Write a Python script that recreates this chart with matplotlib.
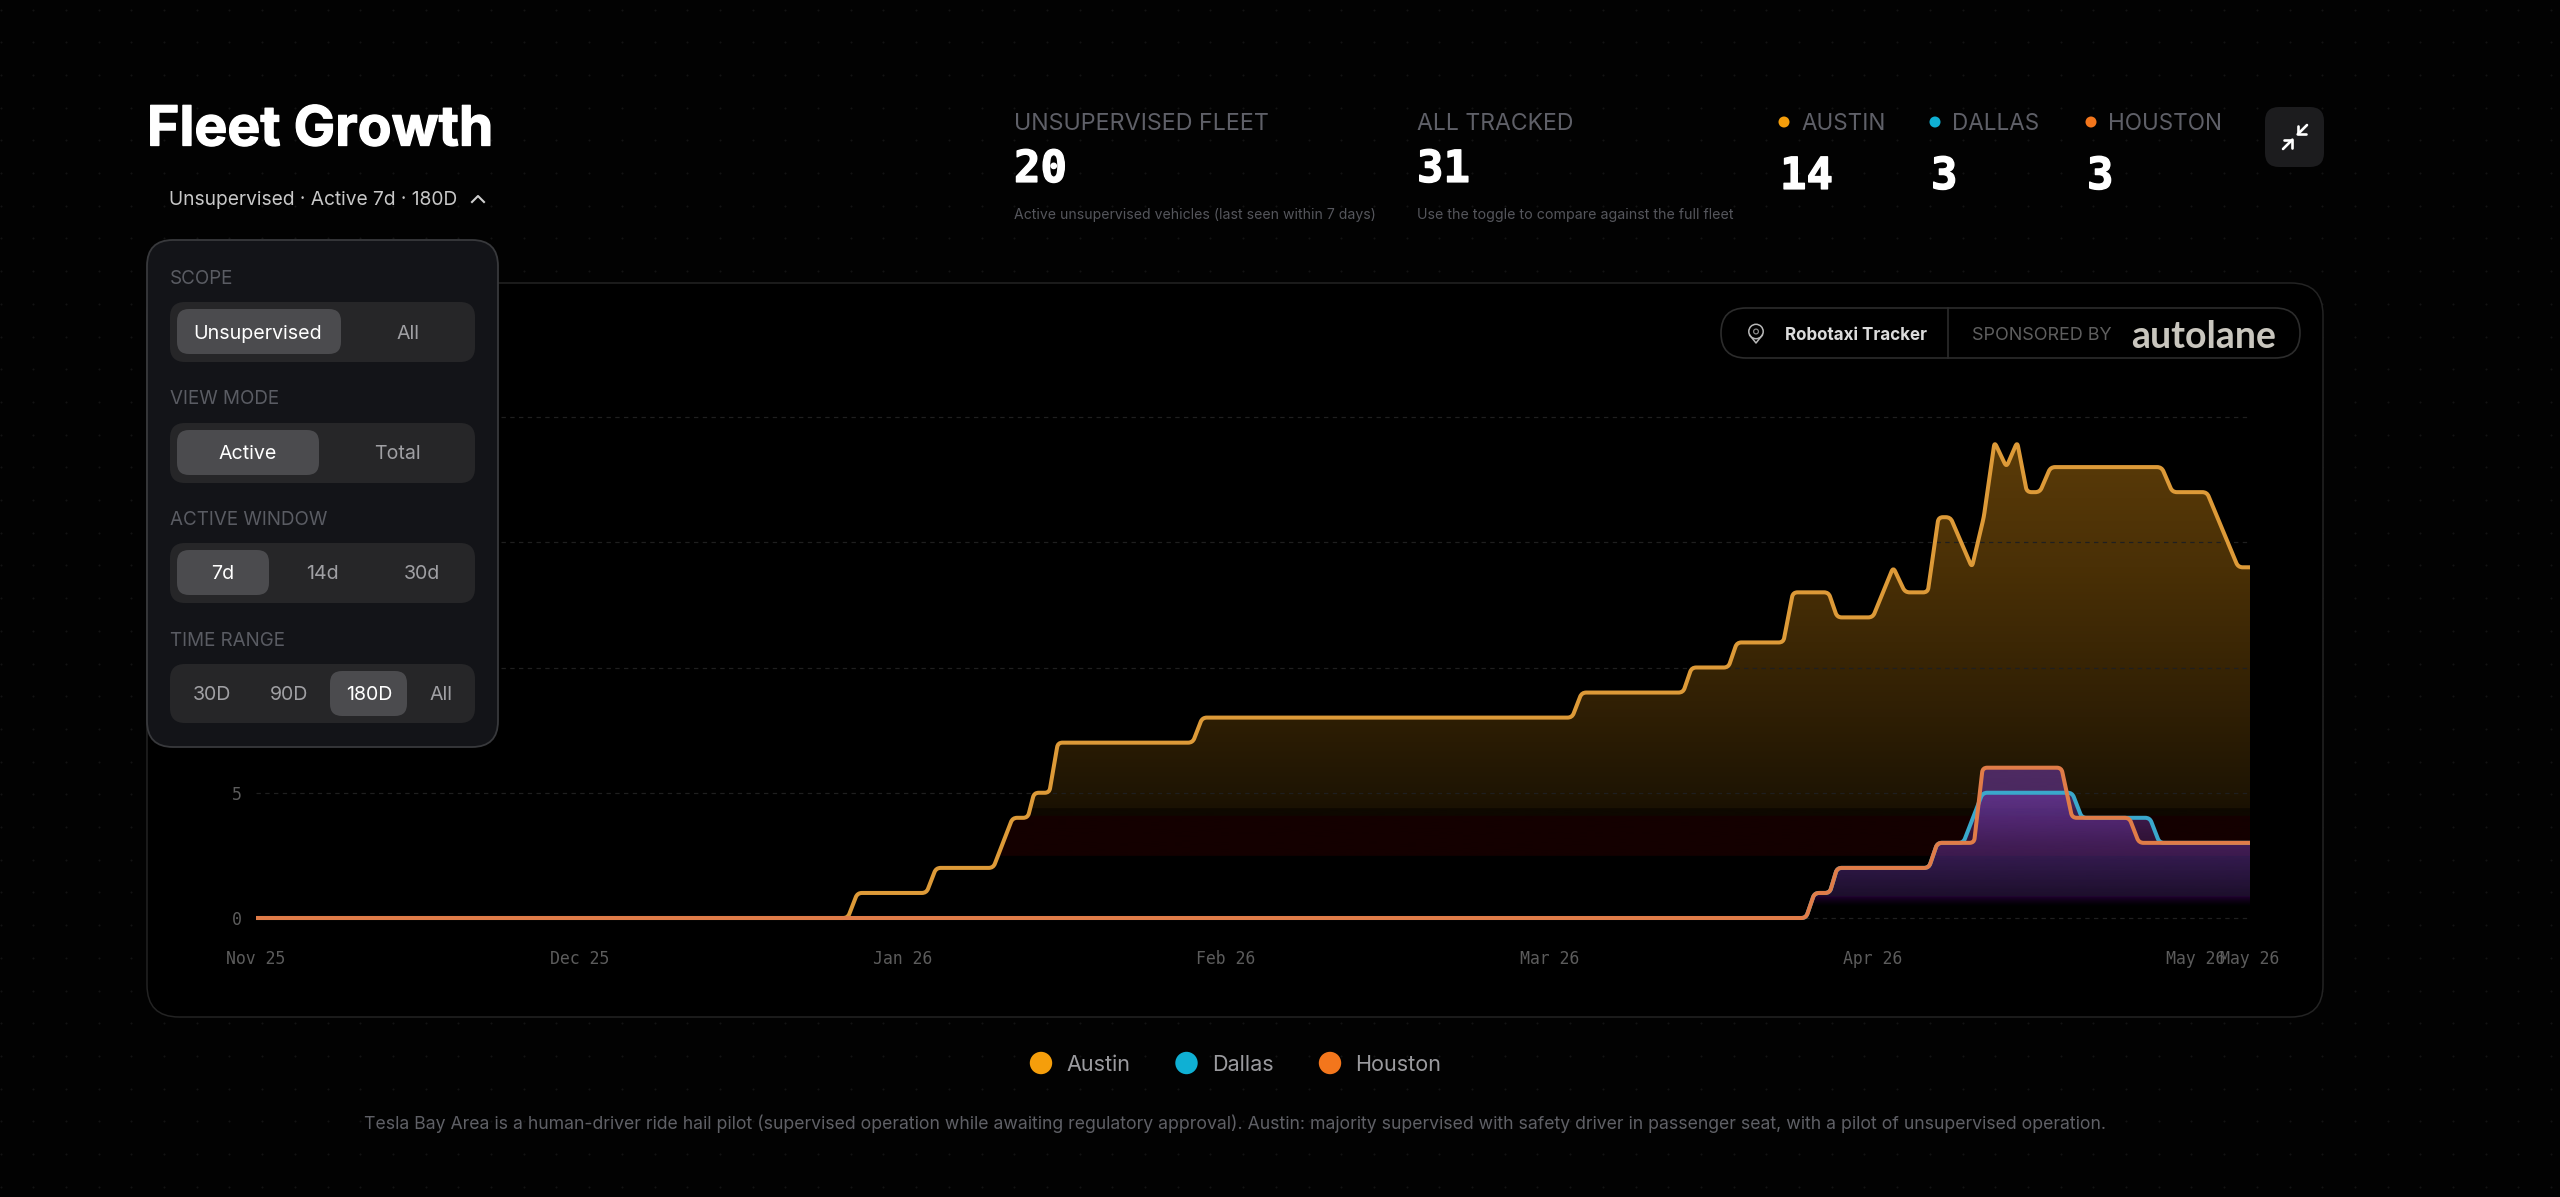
import numpy as np
import matplotlib
matplotlib.use("Agg")
import matplotlib.pyplot as plt
import matplotlib.patheffects as pe
from matplotlib.colors import LinearSegmentedColormap, to_rgba
from matplotlib.patches import FancyBboxPatch, Circle, PathPatch
from matplotlib.path import Path

# day offsets from the first sample, and vehicles active on that day
austin_days = [0, 54.9, 55.8, 62.2, 63.1, 68.4, 70.2, 71.6, 72.2, 73.6, 74.4, 86.9, 87.8,
               122.1, 123.0, 132.4, 133.2, 136.6, 137.4, 141.7, 142.6, 145.9, 146.7, 150.0,
               151.9, 153.0, 155.1, 156.1, 157.2, 159.2, 160.3, 161.3, 162.4, 163.4, 164.3,
               165.5, 166.5, 176.8, 177.8, 181.0, 183.9, 185]
austin_vals = [0, 0, 1, 1, 2, 2, 4, 4, 5, 5, 7, 7, 8,
               8, 9, 9, 10, 10, 11, 11, 13, 13, 12, 12,
               14, 13, 13, 16, 16, 14, 16, 19, 18, 19, 17,
               17, 18, 18, 17, 17, 14, 14]
dallas_days = [0, 143.8, 144.6, 146.0, 146.7, 155.2, 156.0, 158.4, 160.2, 168.5, 169.4, 175.7, 176.6, 185]
dallas_vals = [0, 0, 1, 1, 2, 2, 3, 3, 5, 5, 4, 4, 3, 3]
houston_days = [0, 143.8, 144.6, 146.0, 146.7, 155.2, 156.0, 159.4, 160.2, 167.5, 168.5, 173.8, 174.7, 185]
houston_vals = [0, 0, 1, 1, 2, 2, 3, 3, 6, 6, 4, 4, 3, 3]

x_ticks = [0, 30, 60, 90, 120, 150, 180, 185]
x_labels = ["Nov 25", "Dec 25", "Jan 26", "Feb 26", "Mar 26", "Apr 26", "May 26", "May 26"]
y_ticks = [0, 5, 10, 15, 20]

city_names = ["AUSTIN", "DALLAS", "HOUSTON"]
city_counts = [14, 3, 3]
legend_names = ["Austin", "Dallas", "Houston"]

AMBER = "#f59e0b"
CYAN = "#0fb0d4"
ORANGE = "#f3761c"
W, H = 2560, 1197
SANS = "Inter"
MONO = "DejaVu Sans Mono"
PX_DAY = (2250 - 256) / 185
PX_UNIT = (918 - 417) / 20


def px(size):
    return size * 0.72


def rbox(ax, x0, y0, x1, y1, r, fc, ec="none", lw=1.0, z=1):
    p = FancyBboxPatch((x0 + r, y0 + r), x1 - x0 - 2 * r, y1 - y0 - 2 * r,
                       boxstyle=f"round,pad={r},rounding_size={r}",
                       fc=fc, ec=ec, lw=lw, zorder=z)
    ax.add_patch(p)
    return p


def rounded_path(xs, ys, r=4.5, close=False):
    # series outline with its corners eased, r is measured in pixels
    pts = np.column_stack([np.array(xs) * PX_DAY, np.array(ys) * PX_UNIT])
    verts = [pts[0]]
    codes = [Path.MOVETO]
    for i in range(1, len(pts) - 1):
        a, b, c = pts[i - 1], pts[i], pts[i + 1]
        la, lc = np.linalg.norm(b - a), np.linalg.norm(c - b)
        ra, rc = min(r, la / 2), min(r, lc / 2)
        verts += [b + (a - b) / la * ra, b, b + (c - b) / lc * rc]
        codes += [Path.LINETO, Path.CURVE3, Path.CURVE3]
    verts.append(pts[-1])
    codes.append(Path.LINETO)
    if close:
        verts += [(pts[-1][0], 0), (pts[0][0], 0), (pts[0][0], 0)]
        codes += [Path.LINETO, Path.LINETO, Path.CLOSEPOLY]
    verts = np.array(verts) / [PX_DAY, PX_UNIT]
    return Path(verts, codes)


def gradient_fill(ax, xs, ys, stops, z):
    # vertical gradient clipped to the area under a series
    top = stops[-1][0]
    cmap = LinearSegmentedColormap.from_list(
        "g", [(v / top, to_rgba(c, a)) for v, c, a in stops], N=512)
    grad = np.linspace(0, 1, 512).reshape(-1, 1)
    im = ax.imshow(grad, extent=[0, 185, 0, top], origin="lower", aspect="auto",
                   cmap=cmap, vmin=0, vmax=1, zorder=z, interpolation="bilinear")
    im.set_clip_path(rounded_path(xs, ys, close=True), transform=ax.transData)


def draw_series(ax, xs, ys, color, z):
    ax.add_patch(PathPatch(rounded_path(xs, ys), fc="none", ec=color, lw=2.9,
                           joinstyle="round", capstyle="butt", clip_on=False, zorder=z))


fig = plt.figure(figsize=(W / 100, H / 100), dpi=100, facecolor="#020202")

# page background and chart card
bg = fig.add_axes([0, 0, 1, 1], zorder=0)
bg.set_xlim(0, W)
bg.set_ylim(H, 0)
bg.axis("off")
gx, gy = np.meshgrid(np.arange(0.5, W, 32.7), np.arange(9.5, H, 32.7))
bg.scatter(gx.ravel(), gy.ravel(), s=2.2, c="#131313", linewidths=0, zorder=0)
rbox(bg, 147, 283, 2323, 1017, 32, "#000000", "#232323", 1.1, z=1)

# chart area
ax = fig.add_axes([256 / W, 1 - 918 / H, (2250 - 256) / W, (918 - 417) / H], zorder=1)
ax.patch.set_alpha(0)
for s in ax.spines.values():
    s.set_visible(False)

austin_stops = [(0, "#000000", 0), (2.46, "#000000", 0), (2.47, "#140000", 1), (4.06, "#140000", 1),
                (4.07, "#0e0800", 1), (4.35, "#0e0800", 1), (4.36, "#1a1102", 1), (5, "#1f1503", 1),
                (8, "#2e1e04", 1), (14, "#4a3006", 1), (19.5, "#5c3c08", 1)]
gradient_fill(ax, austin_days, austin_vals, austin_stops, 2)

purple = "#6a37a0"
purple_stops = [(0, "#000000", 0), (0.44, "#140020", 0), (0.86, "#3c0058", 0.32), (0.87, purple, 0.15),
                (3, purple, 0.33), (5, purple, 0.6), (6.5, purple, 0.62)]
gradient_fill(ax, dallas_days, dallas_vals, purple_stops, 3)
gradient_fill(ax, houston_days, houston_vals, purple_stops, 3.1)

ax.set_xlim(0, 185)
ax.set_ylim(0, 20)
ax.set_xticks(x_ticks)
ax.set_xticklabels(x_labels, family=MONO, fontsize=px(16.5), color="#5c5c5c")
ax.set_yticks(y_ticks)
ax.set_yticklabels([str(v) for v in y_ticks], family=MONO, fontsize=px(16.5), color="#5c5c5c")
ax.tick_params(axis="x", length=0, pad=23)
ax.tick_params(axis="y", length=0, pad=10)
ax.grid(False)
for v in y_ticks:
    ax.axhline(v, color="#1f1f1f", lw=0.9, dashes=(3.5, 3.5), zorder=4, clip_on=False)

draw_series(ax, austin_days, austin_vals, "#dd9a38", 5)
draw_series(ax, dallas_days, dallas_vals, "#3aa8cc", 6)
draw_series(ax, houston_days, houston_vals, "#e07c48", 7)

# everything around the plot, in pixel coordinates
ov = fig.add_axes([0, 0, 1, 1], zorder=2)
ov.set_xlim(0, W)
ov.set_ylim(H, 0)
ov.axis("off")
ov.patch.set_alpha(0)


def label(x, y, s, size, color, ha="left", weight="normal", family=SANS, stroke=0):
    t = ov.text(x, y + 0.1 * size, s, fontsize=px(size), color=color, ha=ha, va="center",
                fontweight=weight, family=family, zorder=10)
    if stroke:
        t.set_path_effects([pe.withStroke(linewidth=stroke, foreground=color)])
    return t


label(147, 125, "Fleet Growth", 55.3, "#ffffff", weight="bold", stroke=0.9)
label(169, 198, "Unsupervised · Active 7d · 180D", 19.2, "#c8c8c8")
ov.plot([472, 478, 484], [202, 196, 202], color="#d0d0d0", lw=1.5, zorder=10)

# settings panel
rbox(ov, 147, 240, 498, 747, 26, "#131418", "#38393c", 1.3, z=5)
groups = [
    ("SCOPE", 277, 302, 362, (177, 341, 309, 354), 332,
     [("Unsupervised", 258, True), ("All", 408, False)]),
    ("VIEW MODE", 397, 423, 483, (177, 319, 430, 475), 452,
     [("Active", 248, True), ("Total", 397, False)]),
    ("ACTIVE WINDOW", 518, 543, 603, (177, 269, 550, 595), 572,
     [("7d", 223, True), ("14d", 322, False), ("30d", 422, False)]),
    ("TIME RANGE", 639, 664, 723, (330, 407, 671, 716), 693,
     [("30D", 212, False), ("90D", 289, False), ("180D", 369, True), ("All", 441, False)]),
]
for title, ty, y0, y1, pill, oy, opts in groups:
    label(170, ty, title, 18.8, "#5a5c63")
    rbox(ov, 170, y0, 475, y1, 15, "#262628", z=6)
    rbox(ov, pill[0], pill[2], pill[1], pill[3], 12, "#4b4b4e", z=7)
    for text, cx, on in opts:
        label(cx, oy, text, 19.6, "#ffffff" if on else "#a0a0a4", ha="center")

# headline stats
label(1014, 122, "UNSUPERVISED FLEET", 23.3, "#5f6068")
label(1014, 165, "20", 44, "#ffffff", weight="bold", family=MONO, stroke=1.0)
label(1014, 214, "Active unsupervised vehicles (last seen within 7 days)", 14.05, "#55565c")
label(1417, 122, "ALL TRACKED", 23, "#5f6068")
label(1417, 165, "31", 44, "#ffffff", weight="bold", family=MONO, stroke=1.0)
label(1417, 214, "Use the toggle to compare against the full fleet", 14.2, "#55565c")

for name, count, color, dot_x, num_x in zip(city_names, city_counts, [AMBER, CYAN, ORANGE],
                                            [1784, 1935, 2091], [1780, 1931, 2087]):
    ov.add_patch(Circle((dot_x, 122), 5.5, fc=color, ec="none", zorder=10))
    label(dot_x + 17, 122, name, 22.4, "#5f6068")
    label(num_x, 172, str(count), 44, "#ffffff", weight="bold", family=MONO, stroke=1.0)

# collapse button
rbox(ov, 2265, 107, 2324, 167, 14, "#1c1c1e", z=6)
icon = lambda a, b: (2295 + (a - 12) * 1.33, 137 + (b - 12) * 1.33)
for pts in [[(4, 14), (10, 14), (10, 20)], [(20, 10), (14, 10), (14, 4)], [(14, 10), (21, 3)], [(3, 21), (10, 14)]]:
    xy = np.array([icon(*p) for p in pts])
    ov.plot(xy[:, 0], xy[:, 1], color="#ffffff", lw=1.9, solid_capstyle="round", zorder=10)

# tracker badge
rbox(ov, 1721, 308, 2300, 358, 25, "none", "#2c2c2c", 1.2, z=6)
ov.plot([1948, 1948], [308, 358], color="#2c2c2c", lw=1.2, zorder=6)
ov.add_patch(Circle((1756, 331.5), 7.2, fc="none", ec="#b8b8b8", lw=1.1, zorder=10))
ov.plot([1749.6, 1756, 1762.4], [335, 343, 335], color="#b8b8b8", lw=1.1, zorder=10)
ov.add_patch(Circle((1756, 331.5), 2.4, fc="none", ec="#8a8a8a", lw=0.9, zorder=10))
label(1785, 334, "Robotaxi Tracker", 17, "#dcdcdc", weight="bold")
label(1972, 334, "SPONSORED BY", 18, "#5f5f5f")
label(2131, 333, "autolane", 37.5, "#c9c6be", weight="bold", family="Lato")

# legend and footnote
for name, color, dot_x, text_x in zip(legend_names, [AMBER, CYAN, ORANGE], [1041, 1186.5, 1330], [1066, 1212, 1355]):
    ov.add_patch(Circle((dot_x, 1063), 11.2, fc=color, ec="none", zorder=10))
    label(text_x, 1063, name, 21.6, "#9a9a9e")

label(1235.5, 1122,
      "Tesla Bay Area is a human-driver ride hail pilot (supervised operation while awaiting regulatory approval). "
      "Austin: majority supervised with safety driver in passenger seat, with a pilot of unsupervised operation.",
      17.65, "#5f6066", ha="center")

fig.savefig("out.png", dpi=100, facecolor=fig.get_facecolor())
